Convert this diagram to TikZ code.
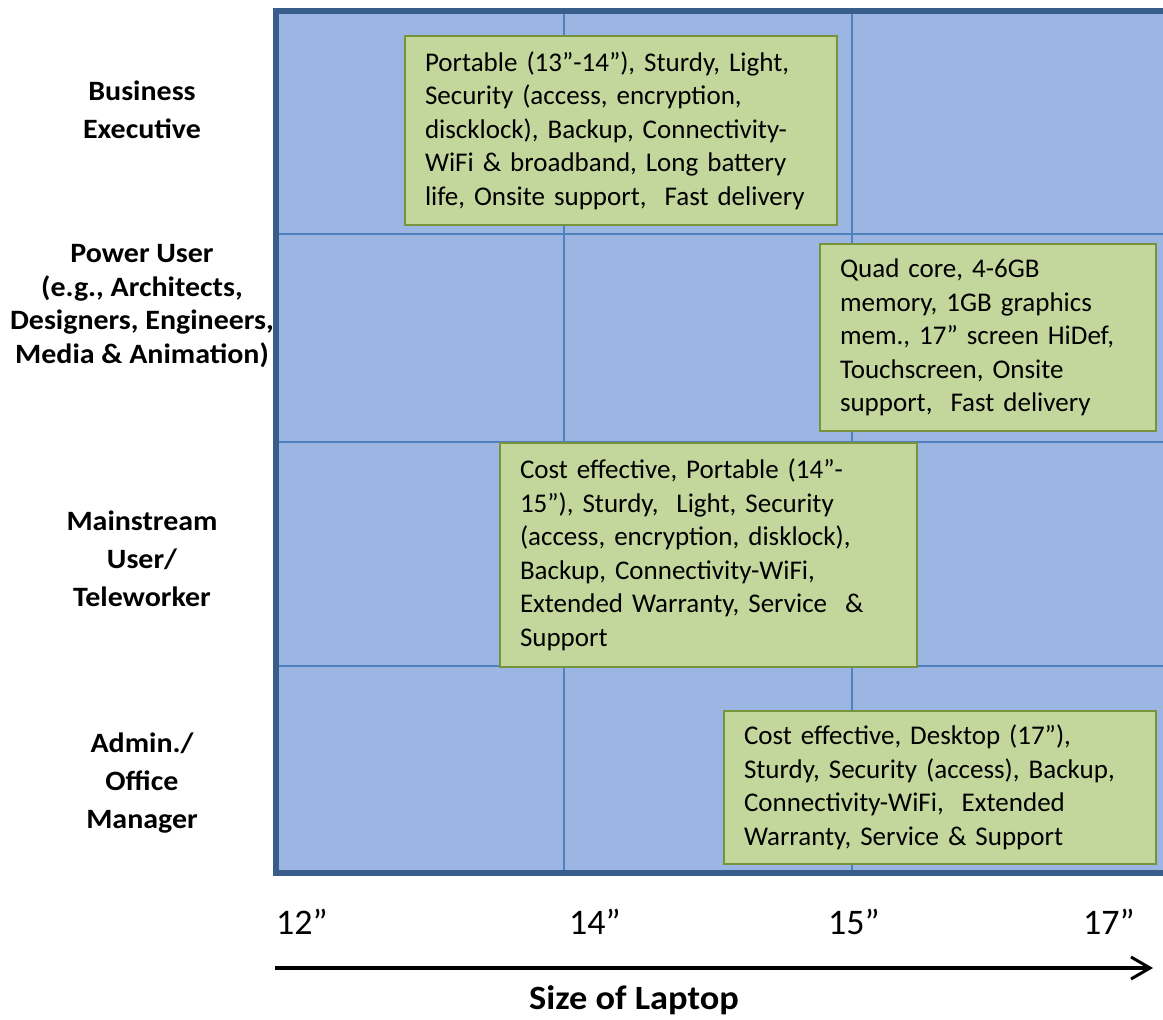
\documentclass[tikz,border=0pt]{standalone}
\usepackage{fontspec}
\setmainfont{Carlito}
\newfontfamily\widefont{Carlito}[FakeStretch=1.07]
\usetikzlibrary{arrows.meta}
\definecolor{cellfill}{RGB}{156,182,228}
\definecolor{gridline}{RGB}{79,129,189}
\definecolor{frameline}{RGB}{56,93,138}
\definecolor{notefill}{RGB}{195,214,155}
\definecolor{noteline}{RGB}{119,147,60}

\begin{document}
\begin{tikzpicture}[x=1pt,y=-1pt,
    note/.style={draw=noteline, fill=notefill, line width=2pt, anchor=north west,
      inner xsep=20pt, inner ysep=0pt, align=left, font=\fontsize{27}{33.5}\selectfont},
    group/.style={align=center, font=\widefont\bfseries\fontsize{28}{38}\selectfont},
    size/.style={font=\fontsize{36}{40}\selectfont}]
    \useasboundingbox (0,0) rectangle (1163,1020);
    \fill [cellfill] (276,11) rectangle (1170,873);
    \foreach \x in {564,851.5} {
      \draw [gridline, line width=2pt] (\x,11) -- (\x,873);
    }
    \foreach \y in {234,441.5,665.5} {
      \draw [gridline, line width=2pt] (276,\y) -- (1170,\y);
    }
    \draw [frameline, line width=6pt] (276,11) rectangle (1170,873);

    \node [note, text width=392, minimum height=189] (exec) at (404,35)
      {Portable (13”-14”), Sturdy, Light,\\ Security (access, encryption,\\
       discklock), Backup, Connectivity-\\ WiFi \& broadband, Long battery\\
       life, Onsite support,\ \ Fast delivery};
    \node [note, text width=296, minimum height=187] (power) at (819,243)
      {Quad core, 4-6GB\\ memory, 1GB graphics\\ mem., 17” screen HiDef,\\
       Touchscreen, Onsite\\ support,\ \ Fast delivery};
    \node [note, text width=377, minimum height=224] (mainstream) at (499,442)
      {Cost effective, Portable (14”-\\ 15”), Sturdy,\ \ Light, Security\\
       (access, encryption, disklock),\\ Backup, Connectivity-WiFi,\\
       Extended Warranty, Service\ \ \&\\ Support};
    \node [note, text width=392, minimum height=153] (admin) at (723,710)
      {Cost effective, Desktop (17”),\\ Sturdy, Security (access), Backup,\\
       Connectivity-WiFi,\ \ Extended\\ Warranty, Service \& Support};

    \node [group] (gexec) at (142,110) {Business\\ Executive};
    \node [group, font=\widefont\bfseries\fontsize{28}{33.7}\selectfont] (gpower) at (142,306)
      {Power User\\ (e.g., Architects,\\ Designers, Engineers,\\ Media \& Animation)};
    \node [group] (gmain) at (142,559) {Mainstream\\ User/\\ Teleworker};
    \node [group] (gadmin) at (142,783) {Admin./\\ Office\\ Manager};

    \foreach \x/\t in {302/12, 595/14, 854/15, 1109/17} {
      \node [size] (tick\t) at (\x,922) {\t”};
    }
    \coordinate (axstart) at (275,968);
    \coordinate (axend) at (1153,968);
    \draw [line width=3.5pt, -{Straight Barb[length=19pt,width=22pt,line width=3pt]}] (axstart) -- (axend);
    \node [font=\widefont\bfseries\fontsize{34}{38}\selectfont] (axlabel) at (634,1000) {Size of Laptop};
  \end{tikzpicture}
\end{document}
